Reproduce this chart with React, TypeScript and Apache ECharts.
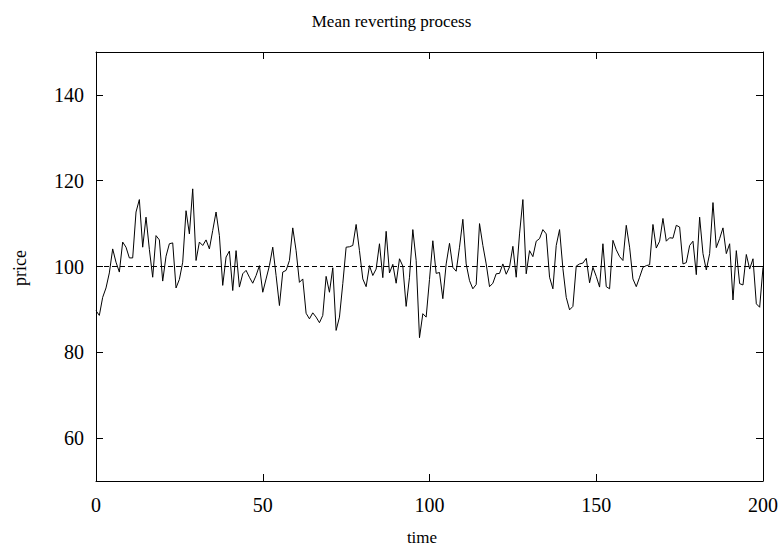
import React, { useEffect, useRef } from "react";
import * as echarts from "echarts";

const titleText = "Mean reverting process";
const xLabel = "time";
const yLabel = "price";
const xTicks = [0, 50, 100, 150, 200];
const yTicks = [60, 80, 100, 120, 140];
const meanLevel = 100;
const prices = [
  89.7, 88.6, 92.8, 95, 98.5, 104.1, 101, 98.7, 105.7, 104.5,
  102, 102, 112.7, 115.6, 104.5, 111.5, 104, 97.5, 107.2, 106.2,
  96.6, 102.4, 105.3, 105.5, 95, 97, 101, 113, 107.6, 118.1,
  101.4, 105.7, 104.9, 106.2, 104.1, 108.4, 112.7, 107.2, 95.6, 102.2,
  103.6, 94.4, 103.7, 95.2, 98.3, 99.1, 97.5, 96.1, 97.9, 100.2,
  94, 97.1, 100.2, 104.5, 97.9, 90.9, 98.7, 99.1, 101.4, 109,
  103.7, 96.3, 97.1, 89.1, 87.8, 89.2, 88.2, 86.9, 88.6, 97.7,
  94, 99.7, 85.1, 88.2, 96, 104.5, 104.6, 104.9, 109.8, 103.7,
  97.1, 95.3, 100.2, 97.9, 99.4, 105.3, 97.4, 108.2, 98.5, 100.5,
  96.1, 101.8, 100.1, 90.7, 97.5, 108.6, 101.4, 83.4, 89, 88.2,
  97, 106, 98.4, 98.6, 92.5, 100.6, 105.4, 99.8, 98.9, 104.5,
  111, 100.6, 96.7, 94.8, 95.8, 110, 104.9, 100.6, 95.3, 96.1,
  98.3, 98.4, 100.6, 98.2, 99.9, 104.7, 97.5, 107.6, 115.6, 98.3,
  103.7, 102.3, 105.9, 106.5, 108.6, 107.6, 97.5, 94.8, 104.9, 108.6,
  99.5, 92.8, 89.9, 90.7, 100.1, 100.6, 100.8, 101.9, 96.2, 99.8,
  97.7, 95.2, 105.3, 95.3, 94.8, 106.1, 103.9, 102.3, 101.4, 109.6,
  104.5, 97.1, 95.3, 97.5, 99.8, 100.2, 100.4, 109.8, 104.3, 105.9,
  111.2, 105.9, 106.7, 106.6, 109.6, 109.2, 100.6, 100.9, 104.9, 105.9,
  98.1, 111.5, 103, 99.2, 103, 114.9, 104.4, 106.5, 109, 103,
  105.3, 92.2, 103.7, 96, 95.7, 102.8, 99.4, 101.8, 91.3, 90.5,
  99.8,
];

const FONT = "'Liberation Serif', 'DejaVu Serif', serif";

export default function App() {
  const ref = useRef<HTMLDivElement>(null);
  useEffect(() => {
    if (!ref.current) return;
    const chart = echarts.init(ref.current, undefined, { renderer: "svg" });
    const axisCommon = {
      type: "value" as const,
      axisLine: { show: true, onZero: false, lineStyle: { color: "#000", width: 1 } },
      axisTick: { show: true, inside: true, length: 7, lineStyle: { color: "#000", width: 1 } },
      splitLine: { show: false },
    };
    chart.setOption({
      animation: false,
      backgroundColor: "#fff",
      title: {
        text: titleText,
        left: "center",
        top: 8,
        textStyle: { fontFamily: FONT, fontSize: 17, fontWeight: "normal", color: "#000" },
      },
      grid: { left: 96, right: 20, top: 52, bottom: 65, containLabel: false },
      xAxis: [
        {
          ...axisCommon,
          min: 0,
          max: 200,
          position: "bottom",
          axisTick: { ...axisCommon.axisTick, customValues: xTicks },
          axisLabel: {
            customValues: xTicks,
            color: "#000",
            fontFamily: FONT,
            fontSize: 20,
            margin: 14,
          },
        },
        {
          ...axisCommon,
          min: 0,
          max: 200,
          position: "top",
          axisTick: { ...axisCommon.axisTick, customValues: xTicks },
          axisLabel: { show: false },
        },
      ],
      yAxis: [
        {
          ...axisCommon,
          min: 50,
          max: 150,
          position: "left",
          axisTick: { ...axisCommon.axisTick, customValues: yTicks },
          axisLabel: {
            customValues: yTicks,
            color: "#000",
            fontFamily: FONT,
            fontSize: 20,
            margin: 12,
          },
        },
        {
          ...axisCommon,
          min: 50,
          max: 150,
          position: "right",
          axisTick: { ...axisCommon.axisTick, customValues: yTicks },
          axisLabel: { show: false },
        },
      ],
      graphic: [
        {
          type: "text",
          x: 422,
          y: 537,
          style: { text: xLabel, fontFamily: FONT, fontSize: 17, fill: "#000", align: "center", verticalAlign: "middle" },
        },
        {
          type: "text",
          x: 20,
          y: 268,
          rotation: Math.PI / 2,
          style: { text: yLabel, fontFamily: FONT, fontSize: 18, fill: "#000", align: "center", verticalAlign: "middle" },
        },
      ],
      series: [
        {
          type: "line",
          name: "mean",
          data: [[0, meanLevel], [200, meanLevel]],
          showSymbol: false,
          symbol: "none",
          lineStyle: { color: "#000", width: 1, type: [5, 3] },
          silent: true,
        },
        {
          type: "line",
          name: "price",
          data: prices.map((v, i) => [i, v]),
          showSymbol: false,
          symbol: "none",
          lineStyle: { color: "#000", width: 1 },
          silent: true,
        },
      ],
    });
    return () => chart.dispose();
  }, []);
  return (
    <div
      ref={ref}
      style={{ position: "fixed", left: 0, top: 0, width: 783, height: 546 }}
    />
  );
}
